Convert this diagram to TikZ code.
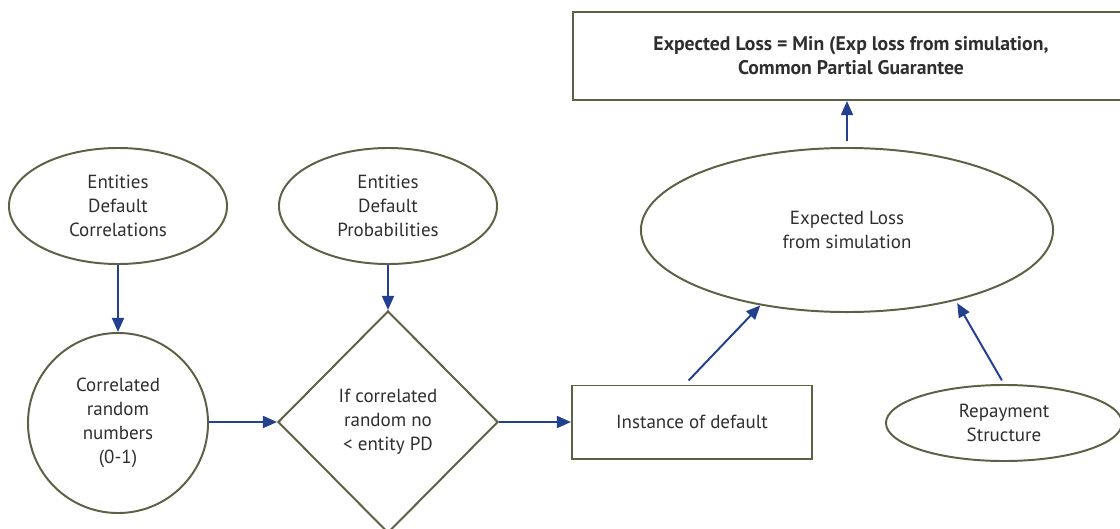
\documentclass[tikz,border=0pt]{standalone}
\usepackage{fontspec}
\setmainfont{PT Sans}
\usepackage{tikz}
\usetikzlibrary{arrows.meta,shapes.geometric,calc}
\definecolor{EdgeOlive}{HTML}{5E5F45}
\definecolor{ArrowBlue}{HTML}{233F8F}
\definecolor{TextDark}{HTML}{2E2E2E}

\begin{document}
\begin{tikzpicture}[x=0.025cm,y=-0.025cm,
                    every node/.style={font=\fontsize{13.5}{17}\selectfont,text=TextDark,align=center},
                    bubble/.style={ellipse,draw=EdgeOlive,line width=1.4pt,inner sep=0pt},
                    boxnode/.style={rectangle,draw=EdgeOlive,line width=1.4pt,inner sep=0pt},
                    ar/.style={-{Triangle[length=10pt,width=8.5pt]},ArrowBlue,line width=1.4pt}]
  \useasboundingbox (0,0) rectangle (1120,528);
  % inputs
  \node[bubble, minimum width=5.45cm, minimum height=2.9cm] (corr) at (118,206)
    {Entities\\Default\\Correlations};
  \node[bubble, minimum width=5.45cm, minimum height=2.9cm] (prob) at (388,206)
    {Entities\\Default\\Probabilities};
  \node[circle, draw=EdgeOlive, line width=1.4pt, inner sep=0pt, minimum size=4.5cm]
    (rand) at (118,423) {Correlated\\random\\numbers\\(0-1)};
  \node[diamond, draw=EdgeOlive, line width=1.4pt, inner sep=0pt,
        minimum width=5.5cm, minimum height=5.55cm] (test) at (388,422)
    {If correlated\\random no\\< entity PD};
  \node[boxnode, minimum width=6cm, minimum height=1.825cm] (inst) at (692,422)
    {Instance of default};
  % outputs
  \node[bubble, minimum width=10.3cm, minimum height=4.1cm] (sim) at (847,230)
    {Expected Loss\\from simulation};
  \node[bubble, minimum width=5.9cm, minimum height=1.9cm] (repay) at (1004,423)
    {Repayment\\Structure};
  \node[boxnode, minimum width=13.9cm, minimum height=2.2cm,
        font=\fontsize{14}{17}\selectfont\bfseries] (loss) at (851,56)
    {Expected Loss = Min (Exp loss from simulation,\\Common Partial Guarantee};
  \draw[ar] (corr) -- (rand);
  \draw[ar] (prob) -- (test);
  \draw[ar] (rand.east |- test.west) -- (test.west);
  \draw[ar] (test.east) -- (inst.west);
  \draw[ar, shorten <=4pt] ($(inst.north west)!0.47!(inst.north east)$) -- (sim.221);
  \draw[ar, shorten <=3pt, shorten >=2pt] (repay.north) -- (sim.327);
  \draw[ar, shorten <=4pt] (sim.north) -- (sim.north |- loss.south);
\end{tikzpicture}
\end{document}
